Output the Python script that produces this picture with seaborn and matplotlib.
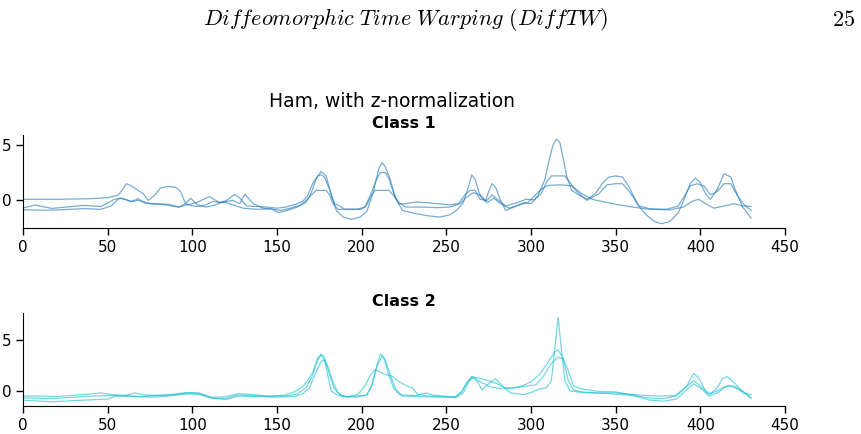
import matplotlib
matplotlib.use("Agg")
import matplotlib.pyplot as plt
import pandas as pd
import seaborn as sns

# --- class 1 (three series at irregular x knots) ---
c1a_x = [0, 7, 17, 36, 46, 54, 58, 64, 68, 76, 86, 92, 97, 100, 104, 110, 116, 124, 128, 131,
         136, 142, 147, 151, 156, 162, 167, 170, 173, 176, 179, 182, 185, 189, 194, 199, 203, 207,
         210, 212, 214, 217, 220, 224, 232, 240, 246, 252, 256, 260, 263, 265, 267, 270, 273, 275,
         277, 279, 282, 285, 290, 296, 300, 304, 308, 311, 313, 315, 317, 319, 321, 324, 328, 333,
         338, 342, 346, 350, 354, 358, 363, 368, 373, 377, 382, 387, 391, 394, 397, 400, 403, 406,
         410, 414, 418, 421, 425, 430]
c1a_y = [-0.68, -0.42, -0.72, -0.45, -0.55, 0.1, 0.2, -0.1, 0.0, -0.3, -0.35, -0.6, -0.4, -0.3,
         -0.1, 0.35, -0.2, 0.0, -0.3, 0.55, -0.3, -0.7, -0.8, -1.1, -0.9, -0.6, -0.2, 0.6, 1.9,
         2.6, 2.2, 0.5, -0.9, -1.5, -1.7, -1.5, -1.0, 0.8, 2.8, 3.4, 3.0, 1.8, 0.2, -0.9, -1.2,
         -1.4, -1.5, -1.3, -0.9, -0.2, 1.2, 2.3, 1.9, 0.4, -0.1, 0.8, 1.5, 1.2, 0.0, -0.9, -0.6,
         -0.2, -0.3, 0.4, 1.8, 3.8, 5.0, 5.5, 5.2, 3.8, 2.2, 0.9, 0.5, 0.1, 0.6, 1.5, 2.1, 2.2,
         2.1, 1.2, -0.4, -1.3, -1.9, -2.1, -1.9, -1.1, 0.3, 1.5, 2.0, 1.6, 0.6, 0.1, 1.0, 2.4,
         2.1, 0.8, -0.6, -1.6]

c1b_x = [0, 20, 40, 50, 56, 59, 61, 64, 68, 71, 74, 78, 81, 85, 90, 93, 96, 100, 104, 108, 112,
         118, 122, 125, 128, 132, 138, 144, 150, 155, 160, 165, 168, 171, 174, 176, 178, 181, 184,
         187, 190, 197, 202, 206, 209, 211, 214, 216, 219, 222, 226, 232, 238, 245, 252, 257, 261,
         264, 267, 270, 274, 277, 280, 285, 292, 297, 302, 306, 309, 312, 320, 323, 327, 333, 340,
         345, 350, 354, 358, 364, 370, 380, 387, 391, 394, 398, 402, 406, 410, 414, 418, 422, 426,
         430]
c1b_y = [0.1, 0.1, 0.15, 0.25, 0.45, 1.0, 1.5, 1.3, 0.9, 0.6, 0.0, 0.5, 1.1, 1.25, 1.2, 0.8,
         -0.3, -0.5, -0.55, -0.4, -0.1, -0.2, 0.2, 0.55, 0.2, -0.5, -0.55, -0.6, -0.7, -0.6, -0.4,
         -0.1, 0.4, 1.5, 2.2, 2.3, 2.1, 1.0, -0.3, -0.5, -0.8, -0.8, -0.6, 0.8, 2.0, 2.5, 2.5, 2.0,
         0.6, -0.3, -0.3, -0.15, -0.2, -0.3, -0.4, -0.3, 0.5, 0.9, 0.9, 0.1, 0.0, 0.5, 0.1, -0.5,
         -0.2, 0.1, 0.05, 0.6, 1.6, 2.2, 2.2, 1.6, 0.8, 0.0, 0.6, 1.4, 1.5, 1.5, 0.8, -0.5, -0.75,
         -0.8, -0.5, 0.5, 1.3, 1.5, 1.3, 0.5, 0.8, 1.5, 1.5, 0.4, -0.4, -0.9]

c1c_x = [0, 10, 20, 36, 46, 52, 57, 60, 64, 68, 72, 82, 92, 96, 99, 103, 108, 114, 118, 124, 130,
         138, 146, 152, 158, 164, 168, 171, 173, 179, 181, 183, 186, 200, 203, 206, 208, 216, 219,
         222, 226, 235, 245, 252, 258, 262, 266, 270, 274, 278, 282, 287, 293, 298, 302, 306, 310,
         318, 324, 330, 336, 342, 352, 360, 370, 382, 390, 395, 399, 403, 408, 414, 420, 425, 430]
c1c_y = [-0.83, -0.88, -0.86, -0.74, -0.8, -0.5, 0.2, 0.1, -0.1, 0.15, -0.27, -0.36, -0.6, -0.3,
         0.2, -0.4, -0.6, -0.4, -0.1, -0.4, -0.7, -0.8, -0.75, -0.9, -0.7, -0.4, 0.1, 0.6, 0.9, 0.9,
         0.5, -0.3, -0.8, -0.8, -0.4, 0.5, 0.9, 0.9, 0.4, -0.2, -0.6, -0.6, -0.65, -0.6, -0.3, 0.3,
         0.7, 0.5, -0.2, 0.2, -0.3, -0.7, -0.4, -0.2, 0.4, 1.0, 1.35, 1.4, 1.3, 0.6, 0.1, -0.1,
         -0.4, -0.6, -0.8, -0.85, -0.6, -0.1, 0.1, -0.3, -0.7, -0.5, -0.3, -0.5, -0.55]

# --- class 2 ---
c2a_x = [0, 10, 20, 36, 46, 52, 60, 66, 72, 82, 90, 97, 104, 111, 119, 127, 135, 145, 155, 162,
         167, 171, 174, 176, 178, 181, 184, 188, 192, 197, 203, 206, 209, 211, 213, 216, 219, 223,
         232, 238, 242, 250, 256, 260, 263, 265, 268, 271, 275, 279, 283, 288, 296, 301, 305, 309,
         312, 314, 316, 318, 320, 323, 330, 345, 360, 370, 378, 386, 392, 396, 399, 403, 406, 410,
         413, 416, 420, 425, 430]
c2a_y = [-0.5, -0.5, -0.55, -0.35, -0.2, -0.35, -0.45, -0.2, -0.4, -0.45, -0.3, -0.15, -0.2,
         -0.6, -0.6, -0.25, -0.35, -0.5, -0.5, -0.3, 0.3, 1.5, 3.0, 3.6, 3.3, 1.6, 0.2, -0.5, -0.6,
         -0.5, -0.4, 0.5, 2.5, 3.6, 3.3, 1.6, 0.2, -0.4, -0.45, -0.2, -0.4, -0.55, -0.65, -0.2, 0.8,
         1.4, 1.0, 0.1, 0.7, 1.2, 0.5, -0.2, -0.35, -0.1, 0.2, 0.3, 1.0, 4.0, 7.2, 4.0, 1.0, 0.0,
         -0.15, -0.25, -0.45, -0.7, -0.75, -0.5, 0.5, 1.7, 1.3, 0.0, -0.3, 0.3, 1.2, 1.4, 0.8, -0.1,
         -0.4]

c2b_x = [0, 17, 36, 50, 60, 70, 82, 90, 97, 104, 111, 119, 127, 135, 145, 155, 160, 165, 168,
         171, 174, 176, 178, 180, 182, 186, 192, 198, 202, 205, 208, 211, 215, 218, 222, 227, 230,
         233, 240, 248, 255, 259, 262, 265, 268, 273, 280, 285, 290, 295, 300, 305, 310, 314, 316,
         319, 322, 325, 330, 340, 350, 360, 368, 376, 385, 391, 396, 400, 405, 410, 414, 418, 423,
         430]
c2b_y = [-0.67, -0.75, -0.55, -0.45, -0.45, -0.55, -0.4, -0.35, -0.2, -0.25, -0.7, -0.75, -0.4,
         -0.45, -0.55, -0.4, -0.1, 0.4, 1.0, 1.8, 3.2, 3.5, 3.0, 1.5, 0.0, -0.45, -0.55, -0.3, 0.5,
         1.5, 2.1, 1.8, 1.55, 1.45, 0.9, 0.45, 0.3, -0.35, -0.5, -0.55, -0.6, -0.1, 0.8, 1.4, 1.3,
         1.1, 0.7, 0.3, 0.3, 0.5, 0.9, 1.6, 2.8, 3.8, 4.0, 3.2, 1.0, 0.1, -0.1, -0.2, -0.2, -0.35,
         -0.45, -0.5, -0.45, 0.3, 1.0, 0.5, -0.3, 0.0, 0.4, 0.5, 0.1, -0.7]

c2c_x = [0, 17, 36, 50, 55, 66, 76, 86, 97, 104, 112, 120, 127, 135, 150, 160, 165, 169, 173, 176,
         178, 180, 183, 186, 190, 197, 203, 206, 209, 212, 214, 217, 220, 224, 232, 245, 255, 259,
         263, 266, 270, 276, 283, 290, 298, 303, 308, 312, 316, 319, 322, 325, 330, 340, 350, 360,
         370, 378, 386, 391, 396, 400, 405, 410, 416, 420, 425, 430]
c2c_y = [-0.9, -1.06, -0.9, -0.8, -0.5, -0.55, -0.6, -0.5, -0.3, -0.35, -0.7, -0.85, -0.5, -0.55,
         -0.6, -0.55, -0.3, 0.3, 1.8, 2.9, 3.0, 2.4, 0.9, -0.2, -0.55, -0.6, -0.4, 0.6, 2.4, 3.4,
         3.0, 1.5, 0.2, -0.5, -0.55, -0.6, -0.6, -0.1, 1.0, 1.3, 0.9, 0.4, 0.2, 0.3, 0.5, 0.6, 1.6,
         2.7, 3.3, 3.1, 2.0, 0.5, 0.2, -0.05, -0.1, -0.4, -0.9, -1.0, -0.8, 0.0, 0.7, 0.3, -0.5,
         -0.2, 0.5, 0.45, 0.0, -0.7]

class1 = [(c1a_x, c1a_y), (c1b_x, c1b_y), (c1c_x, c1c_y)]
class2 = [(c2a_x, c2a_y), (c2b_x, c2b_y), (c2c_x, c2c_y)]


def to_frame(series):
    parts = []
    for i, (xs, ys) in enumerate(series):
        parts.append(pd.DataFrame({"t": xs, "value": ys, "series": i}))
    return pd.concat(parts, ignore_index=True)


sns.set_style("ticks")
plt.rcParams["font.family"] = ["DejaVu Sans"]
plt.rcParams["mathtext.fontset"] = "cm"
plt.rcParams["text.color"] = "black"
plt.rcParams["axes.labelcolor"] = "black"
plt.rcParams["xtick.color"] = "black"
plt.rcParams["ytick.color"] = "black"

fig = plt.figure(figsize=(8.62, 4.34), dpi=100)
ax1 = fig.add_axes([0.0267, 0.4747, 0.884, 0.2143])
ax2 = fig.add_axes([0.0267, 0.0645, 0.884, 0.2143])

panels = [
    (ax1, class1, "tab:blue", "Class 1"),
    (ax2, class2, "tab:cyan", "Class 2"),
]
for ax, series, color, title in panels:
    df = to_frame(series)
    sns.lineplot(data=df, x="t", y="value", units="series", estimator=None,
                 color=color, alpha=0.6, lw=0.9, sort=False, ax=ax)
    ax.set_xlim(0, 450)
    ax.set_yticks([0, 5])
    ax.set_xlabel("")
    ax.set_ylabel("")
    ax.set_title(title, fontsize=11.5, fontweight="bold", pad=5, color="black")
    ax.tick_params(labelsize=11, length=5, width=1, colors="black")
    for s in ax.spines.values():
        s.set_color("black")
    sns.despine(ax=ax)

fig.text(0.455, 0.767, "Ham, with z-normalization", fontsize=13.5, ha="center", va="center",
         color="black")

# page header from the paper
fig.text(0.47, 0.955, r"$\mathit{Diffeomorphic\ Time\ Warping\ (DiffTW)}$",
         fontsize=16, ha="center", va="center", color="black")
fig.text(0.979, 0.955, r"$\mathrm{25}$", fontsize=16, ha="center", va="center", color="black")

fig.savefig("out.png", dpi=100)
